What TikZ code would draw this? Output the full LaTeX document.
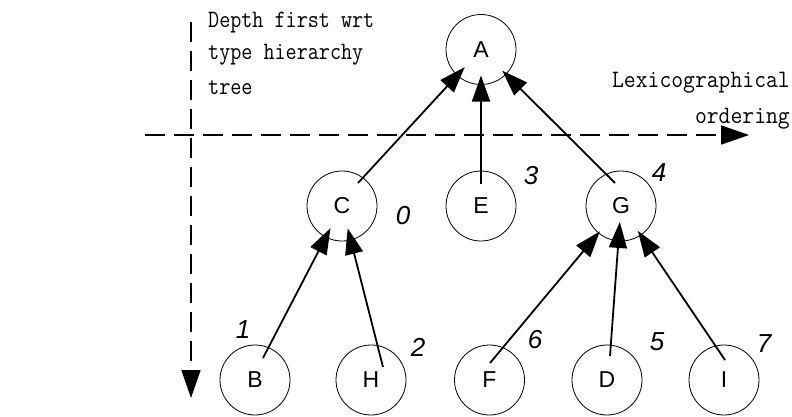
\documentclass[tikz,border=0pt]{standalone}
\usepackage{fontspec}
\setmainfont{Liberation Sans}
\newfontfamily\monof[FakeStretch=0.86]{Latin Modern Mono}
\newfontfamily\monor[FakeStretch=0.92]{Latin Modern Mono}
\usetikzlibrary{arrows.meta,calc}
\begin{document}
\begin{tikzpicture}[x=1pt,y=1pt,
  tnode/.style={circle,draw,line width=0.8pt,minimum size=70pt,inner sep=0pt,
    font=\fontsize{23}{25}\selectfont},
  num/.style={font=\fontsize{26}{28}\selectfont\itshape,inner sep=0pt},
  edge/.style={line width=1.8pt,-{Triangle[length=26pt,width=18pt]}},
  axis/.style={line width=1.8pt,dash pattern=on 20pt off 9pt,-{Triangle[length=28pt,width=19pt]}},
  lbl/.style={font=\monof\fontsize{25}{27}\selectfont,inner sep=0pt},
  lblr/.style={font=\monor\fontsize{25}{27}\selectfont,inner sep=0pt}
]
\useasboundingbox (0,0) rectangle (792,416);
% nodes
\node[tnode] (A) at (481,366.5) {A};
\node[tnode] (C) at (342,210) {C};
\node[tnode] (E) at (481,210) {E};
\node[tnode] (G) at (621,210) {G};
\node[tnode] (B) at (255,36) {B};
\node[tnode] (H) at (371,36) {H};
\node[tnode] (F) at (489.5,36) {F};
\node[tnode] (D) at (607,36) {D};
\node[tnode] (I) at (724,36) {I};
% numbers
\node[num] (n0) at (403,200) {0};
\node[num] (n3) at (531,240) {3};
\node[num] (n4) at (659,243) {4};
\node[num] (n1) at (243,86) {1};
\node[num] (n2) at (418,69) {2};
\node[num] (n6) at (535,76) {6};
\node[num] (n5) at (657,74) {5};
\node[num] (n7) at (764,72) {7};
% edges
\draw[edge,shorten >=24pt] ($(C.center)+(16,23)$) -- (A.center);
\draw[edge,shorten >=26pt] ($(E.center)+(0,22)$) -- (A.center);
\draw[edge,shorten >=30pt] ($(G.center)+(-6,23)$) -- (A.center);
\draw[edge,shorten >=25pt] ($(B.center)+(8,22)$) -- (C.center);
\draw[edge,shorten >=23pt] ($(H.center)+(12,13)$) -- (C.center);
\draw[edge,shorten >=33pt] ($(F.center)+(0.5,17)$) -- (G.center);
\draw[edge,shorten >=16pt] ($(D.center)+(3,24)$) -- (G.center);
\draw[edge,shorten >=30pt] ($(I.center)+(1,20)$) -- (G.center);
% axes
\coordinate (hs) at (145,281);
\coordinate (he) at (749,281);
\coordinate (vs) at (191,394);
\coordinate (ve) at (191,18);
\draw[axis] (hs) -- (he);
\draw[axis] (vs) -- (ve);
% texts
\node[lbl,anchor=base west] (t1) at (208,388) {Depth first wrt};
\node[lbl,anchor=base west] (t2) at (208,356) {type hierarchy};
\node[lbl,anchor=base west] (t3) at (208,322) {tree};
\node[lblr,anchor=base east] (t4) at (790,329) {Lexicographical};
\node[lblr,anchor=base east] (t5) at (790,293) {ordering};
\end{tikzpicture}
\end{document}
